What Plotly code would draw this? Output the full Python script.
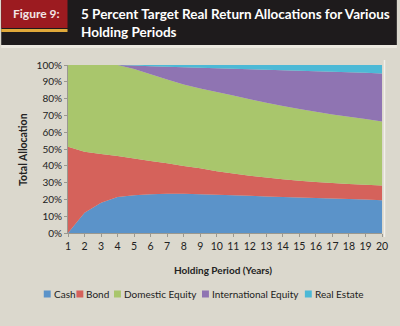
import plotly.graph_objects as go

years = list(range(1, 21))
cash = [0, 12, 18, 21.5, 22.5, 23, 23.3, 23.3, 23, 22.8, 22.5, 22.2, 21.8, 21.5, 21.2, 20.8, 20.5, 20.2, 19.9, 19.5]
bond = [51.4, 36.4, 29, 24.3, 21.9, 19.9, 18.2, 16.6, 15.5, 14.0, 12.9, 11.9, 11.2, 10.5, 9.9, 9.6, 9.3, 9.0, 8.8, 8.8]
domestic = [48.6, 51.6, 53, 54.2, 53.2, 51.6, 49.8, 48.5, 47.5, 47.2, 46.4, 45.5, 44.6, 43.6, 42.7, 41.8, 40.8, 40.0, 39.2, 38.0]
international = [0, 0, 0, 0, 2.1, 4.8, 7.7, 10.3, 12.4, 14.1, 16.0, 17.9, 19.6, 21.3, 22.8, 24.1, 25.4, 26.5, 27.5, 28.7]
real_estate = [0, 0, 0, 0, 0.3, 0.7, 1.0, 1.3, 1.6, 1.9, 2.2, 2.5, 2.8, 3.1, 3.4, 3.7, 4.0, 4.3, 4.6, 5.0]

names = ["Cash", "Bond", "Domestic Equity", "International Equity", "Real Estate"]
series = [cash, bond, domestic, international, real_estate]
colors = ["#5b93c9", "#d5625b", "#a9c66c", "#8f74b2", "#4cb9d6"]

W, H = 400, 326
L, R, T, B = 67.5, 15, 65, 93
pw, ph = W - L - R, H - T - B

def px(x):
    return (x - L) / pw

def py(y):
    return (H - B - y) / ph

fig = go.Figure()
for n, s, c in zip(names, series, colors):
    fig.add_trace(go.Scatter(x=years, y=s, name=n, stackgroup="one", mode="none",
                             fillcolor=c, showlegend=False, hoverinfo="skip"))

shapes = []
annotations = []
# header
shapes.append(dict(type="rect", xref="paper", yref="paper", x0=px(0), x1=px(W), y0=py(0), y1=py(45),
                   fillcolor="#1e1b1c", line_width=0, layer="above"))
shapes.append(dict(type="rect", xref="paper", yref="paper", x0=px(0), x1=px(67), y0=py(0), y1=py(28),
                   fillcolor="#9c1b20", line_width=0, layer="above"))
shapes.append(dict(type="rect", xref="paper", yref="paper", x0=px(0), x1=px(67), y0=py(29), y1=py(32),
                   fillcolor="#e0a93a", line_width=0, layer="above"))
shapes.append(dict(type="rect", xref="paper", yref="paper", x0=px(0), x1=px(W), y0=py(45), y1=py(48),
                   fillcolor="#ebe8df", line_width=0, layer="above"))
annotations.append(dict(text="<b>Figure 9:</b>", xref="paper", yref="paper", x=px(10), y=py(14),
                        xanchor="left", yanchor="middle", showarrow=False,
                        font=dict(family="Lato", size=12, color="#f3e6e6")))
annotations.append(dict(text="<b>5 Percent Target Real Return Allocations for Various<br>Holding Periods</b>",
                        xref="paper", yref="paper", x=px(79), y=py(23), xanchor="left", yanchor="middle",
                        align="left", showarrow=False,
                        font=dict(family="Lato", size=13.5, color="#ffffff")))
# axis titles
annotations.append(dict(text="<b>Total Allocation</b>", xref="paper", yref="paper", x=px(22), y=py(150),
                        textangle=-90, xanchor="center", yanchor="middle", showarrow=False,
                        font=dict(family="Lato", size=10.5, color="#222222")))
annotations.append(dict(text="<b>Holding Period (Years)</b>", xref="paper", yref="paper", x=px(224), y=py(270),
                        xanchor="center", yanchor="middle", showarrow=False,
                        font=dict(family="Lato", size=10, color="#222222")))
# legend
sq_x = [43, 76, 114, 203, 307]
ly = 294
for n, c, sx in zip(names, colors, sq_x):
    shapes.append(dict(type="rect", xref="paper", yref="paper", x0=px(sx), x1=px(sx + 7),
                       y0=py(ly + 3.5), y1=py(ly - 3.5), fillcolor=c, line_width=0))
    annotations.append(dict(text=n, xref="paper", yref="paper", x=px(sx + 8), y=py(ly),
                            xanchor="left", yanchor="middle", showarrow=False,
                            font=dict(family="Lato", size=10, color="#222222")))
# right border line
shapes.append(dict(type="line", xref="paper", yref="paper", x0=px(387.5), x1=px(387.5), y0=py(60), y1=py(237),
                   line=dict(color="#f2f0ea", width=1.5)))

fig.update_layout(
    width=W, height=H,
    margin=dict(l=L, r=R, t=T, b=B),
    paper_bgcolor="#dbd8cd", plot_bgcolor="#dbd8cd",
    showlegend=False,
    shapes=shapes, annotations=annotations,
    font=dict(family="Lato", size=10, color="#222222"),
    xaxis=dict(range=[1, 20], tickmode="array", tickvals=years, ticktext=[str(v) for v in years],
               showgrid=False, zeroline=False, showline=True, linecolor="#9a9890", linewidth=1,
               ticks="outside", ticklen=3, tickcolor="#9a9890", tickfont=dict(size=10.5, color="#222222")),
    yaxis=dict(range=[0, 100], tickmode="array", tickvals=list(range(0, 101, 10)),
               ticktext=[f"{v}%" for v in range(0, 101, 10)],
               showgrid=False, zeroline=False, showline=True, linecolor="#9a9890", linewidth=1,
               ticks="outside", ticklen=3, tickcolor="#9a9890", tickfont=dict(size=10, color="#222222")),
)

fig.write_html("out.html")
